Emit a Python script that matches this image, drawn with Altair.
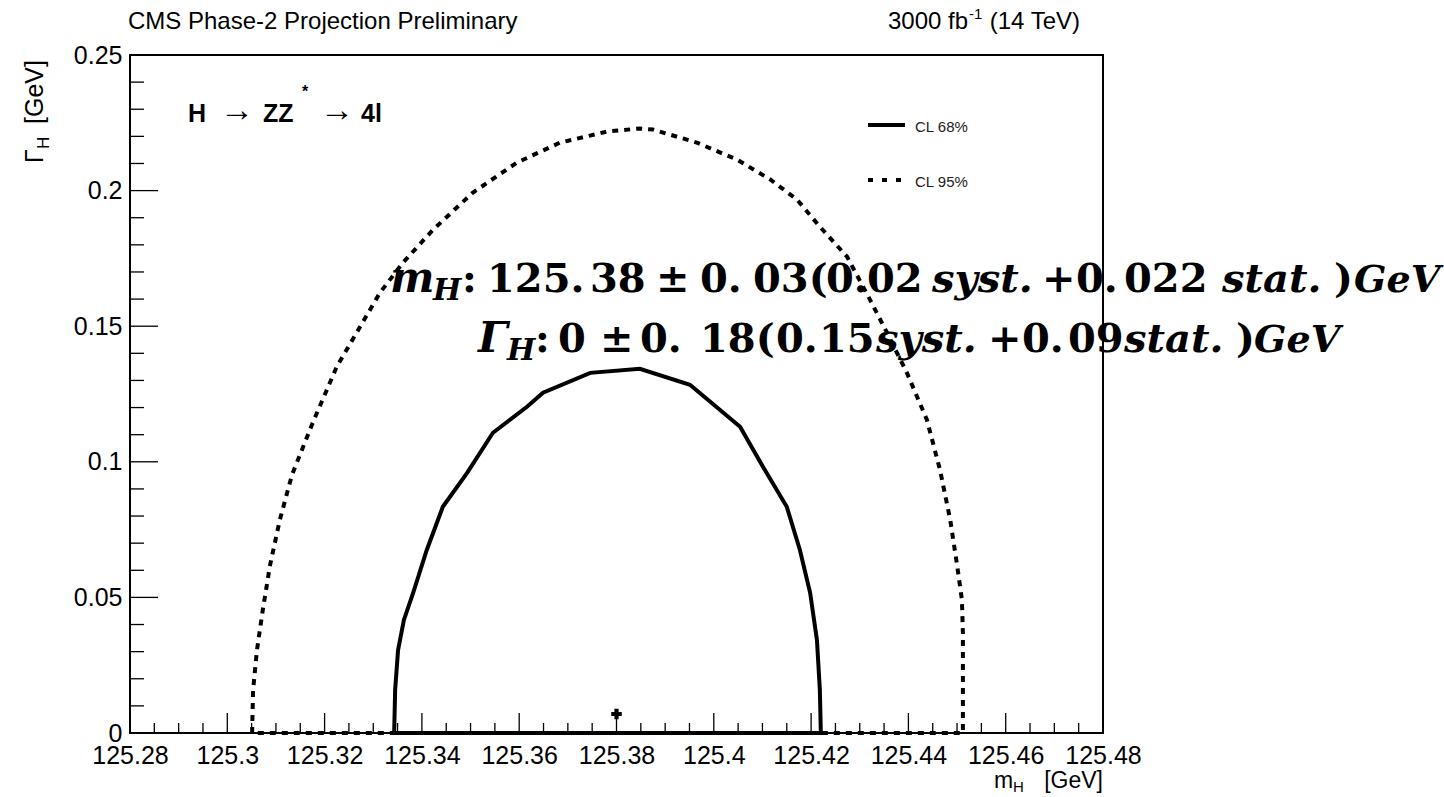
import altair as alt
import pandas as pd

# 68% CL contour in the (m_H, Gamma_H) plane, GeV
CL68_MASS = [125.3343, 125.3345, 125.3351, 125.3363, 125.3382, 125.3410, 125.3443,
             125.3493, 125.3546, 125.3616, 125.3649, 125.3746, 125.3848, 125.3951,
             125.4054, 125.4101, 125.4150, 125.4177, 125.4198, 125.4212, 125.4218,
             125.4220]
CL68_WIDTH = [0.0, 0.0159, 0.0306, 0.0417, 0.0517, 0.0675, 0.0834, 0.0959, 0.1107,
              0.1203, 0.1255, 0.1328, 0.1343, 0.1284, 0.1129, 0.0982, 0.0834, 0.0675,
              0.0517, 0.0343, 0.0159, 0.0]

# 95% CL contour
CL95_MASS = [125.3051, 125.3053, 125.3061, 125.3073, 125.3088, 125.3108, 125.3133,
             125.3174, 125.3225, 125.3273, 125.3314, 125.3361, 125.3423, 125.3505,
             125.3595, 125.3684, 125.3781, 125.3848, 125.3875, 125.3965, 125.4048,
             125.4116, 125.4171, 125.4218, 125.4274, 125.4321, 125.4356, 125.4397,
             125.4438, 125.4465, 125.4486, 125.4500, 125.4510, 125.4512, 125.4512,
             125.4512]
CL95_WIDTH = [0.0, 0.0159, 0.0306, 0.0454, 0.0620, 0.0786, 0.0952, 0.1137, 0.1351,
              0.1498, 0.1624, 0.1734, 0.1856, 0.1993, 0.2103, 0.2177, 0.2218, 0.2229,
              0.2225, 0.2177, 0.2114, 0.2041, 0.1967, 0.1867, 0.1756, 0.1598, 0.1476,
              0.1328, 0.1155, 0.0970, 0.0786, 0.0620, 0.0491, 0.0369, 0.0185, 0.0]

# best-fit point
BEST_MASS = [125.38]
BEST_WIDTH = [0.007]

# axis ticks
X_MAJOR = [125.28, 125.30, 125.32, 125.34, 125.36, 125.38, 125.40, 125.42, 125.44,
           125.46, 125.48]
Y_MAJOR = [0.0, 0.05, 0.10, 0.15, 0.20, 0.25]
X_MINOR = [round(a + k * 0.005, 3) for a in X_MAJOR[:-1] for k in (1, 2, 3)]
Y_MINOR = [round(a + k * 0.01, 3) for a in Y_MAJOR[:-1] for k in (1, 2, 3, 4)]

# frame geometry (pixels)
X0, Y0 = 130, 55
W, H = 973, 678
SANS = "Liberation Sans, Arial, Helvetica, sans-serif"
SERIF = "DejaVu Serif"

xs = alt.Scale(domain=[125.28, 125.48], nice=False, zero=False)
ys = alt.Scale(domain=[0, 0.25], nice=False, zero=False)

xaxis = alt.Axis(values=X_MAJOR, format=".2~f", title=None, ticks=False, domain=False,
                 grid=False, labelFont=SANS, labelFontSize=25, labelColor="black",
                 labelPadding=10, labelFlush=False, labelOverlap=False)
yaxis = alt.Axis(values=Y_MAJOR, format=".2~f", title=None, ticks=False, domain=False,
                 grid=False, labelFont=SANS, labelFontSize=25, labelColor="black",
                 labelPadding=8, labelFlush=False, labelOverlap=False)

ONE = pd.DataFrame({"_": [0]})


def contour(mass, width, dash=None):
    df = pd.DataFrame({
        "m": mass + [mass[0]],
        "g": width + [width[0]],
        "i": list(range(len(mass) + 1)),
    })
    kw = dict(color="black", strokeWidth=4, strokeJoin="miter", strokeCap="butt")
    if dash:
        kw["strokeDash"] = dash
    return alt.Chart(df).mark_line(**kw).encode(
        x=alt.X("m:Q", scale=xs, axis=xaxis),
        y=alt.Y("g:Q", scale=ys, axis=yaxis),
        order="i:Q",
    )


def xticks(values, length):
    df = pd.DataFrame({"v": values})
    return alt.Chart(df).mark_rule(color="black", strokeWidth=1.3).encode(
        x=alt.X("v:Q", scale=xs, axis=xaxis),
        y=alt.value(H), y2=alt.value(H - length),
    )


def yticks(values, length):
    df = pd.DataFrame({"v": values})
    return alt.Chart(df).mark_rule(color="black", strokeWidth=1.3).encode(
        y=alt.Y("v:Q", scale=ys, axis=yaxis),
        x=alt.value(0), x2=alt.value(length),
    )


def text_at(txt, x, y, size, font=SANS, weight="normal", style="normal",
            align="left", angle=0, color="black"):
    kw = dict(text=txt, font=font, fontSize=size, fontWeight=weight,
              fontStyle=style, align=align, baseline="alphabetic", color=color)
    if angle:
        kw["angle"] = angle
    return alt.Chart(ONE).mark_text(**kw).encode(
        x=alt.value(x - X0), y=alt.value(y - Y0))


def legend_line(x1, x2, y, dash=None):
    kw = dict(color="black", strokeWidth=4, strokeCap="butt")
    if dash:
        kw["strokeDash"] = dash
    return alt.Chart(ONE).mark_rule(**kw).encode(
        x=alt.value(x1 - X0), x2=alt.value(x2 - X0), y=alt.value(y - Y0))


best = alt.Chart(pd.DataFrame({"m": BEST_MASS, "g": BEST_WIDTH})).mark_point(
    shape="cross", filled=True, size=110, color="black", opacity=1
).encode(x=alt.X("m:Q", scale=xs, axis=xaxis), y=alt.Y("g:Q", scale=ys, axis=yaxis))

layers = [
    contour(CL95_MASS, CL95_WIDTH, dash=[6, 6]),
    contour(CL68_MASS, CL68_WIDTH),
    xticks(X_MAJOR, 20), xticks(X_MINOR, 10),
    yticks(Y_MAJOR, 28), yticks(Y_MINOR, 14),
    best,
    # header
    text_at("CMS Phase-2 Projection Preliminary", 128, 29, 24),
    text_at("3000 fb", 888, 29, 24),
    text_at("-1", 969, 19, 15),
    text_at("(14 TeV)", 1080, 29, 24, align="right"),
    # process label
    text_at("H", 188, 122, 25, weight="bold"),
    text_at("\u2192", 220, 121, 34),
    text_at("ZZ", 263, 122, 25, weight="bold"),
    text_at("*", 302, 97, 16, weight="bold"),
    text_at("\u2192", 320, 121, 34),
    text_at("4l", 361, 122, 25, weight="bold"),
    # legend
    legend_line(868, 905, 125),
    text_at("CL 68%", 915, 132, 15, color="#222222"),
    legend_line(868, 901, 180, dash=[5, 9]),
    text_at("CL 95%", 915, 187, 15, color="#222222"),
    # axis titles
    text_at("m", 994, 788, 23),
    text_at("H", 1013, 792, 15),
    text_at("[GeV]", 1103, 788, 23, align="right"),
    text_at("\u0393", 43, 163, 25, angle=270),
    text_at("H", 49, 149, 17, angle=270),
    text_at("[GeV]", 43, 124, 25, angle=270),
]

# fit result, set in bold serif with italic symbols
RESULT_TOKENS = [
    # (text, x, baseline, size, italic)
    ("m", 390, 292, 42, True), ("H", 433, 300, 30, True), (":", 462, 292, 40, False),
    ("125.", 487, 292, 40, False), ("38", 590, 292, 40, False),
    ("\u00b1", 656, 292, 40, False), ("0.", 700, 292, 40, False),
    ("03(", 753, 292, 40, False), ("0.", 826, 292, 40, False),
    ("02", 867, 292, 40, False), ("syst.", 932, 292, 40, True),
    ("+", 1042, 292, 40, False), ("0.", 1076, 292, 40, False),
    ("022", 1124, 292, 40, False), ("stat.", 1222, 292, 40, True),
    (")", 1334, 292, 40, False), ("GeV", 1354, 292, 38, True),
    ("\u0393", 478, 352, 42, True), ("H", 507, 360, 30, True), (":", 535, 352, 40, False),
    ("0", 558, 352, 40, False), ("\u00b1", 600, 352, 40, False),
    ("0.", 640, 352, 40, False), ("18(", 700, 352, 40, False),
    ("0.", 776, 352, 40, False), ("15", 819, 352, 40, False),
    ("syst.", 876, 352, 40, True), ("+", 988, 352, 40, False),
    ("0.", 1022, 352, 40, False), ("09", 1068, 352, 40, False),
    ("stat.", 1124, 352, 40, True), (")", 1236, 352, 40, False),
    ("GeV", 1254, 352, 38, True),
]
for txt, x, y, size, italic in RESULT_TOKENS:
    layers.append(text_at(txt, x, y, size, font=SERIF, weight="bold",
                          style="italic" if italic else "normal"))

chart = alt.layer(*layers).properties(
    width=W, height=H,
    autosize=alt.AutoSizeParams(type="none"),
    padding={"left": X0, "top": Y0, "right": 1444 - X0 - W, "bottom": 797 - Y0 - H},
    background="white",
).configure_view(stroke="black", strokeWidth=2)

chart.save("out.html", embed_options={"renderer": "svg", "actions": False})
